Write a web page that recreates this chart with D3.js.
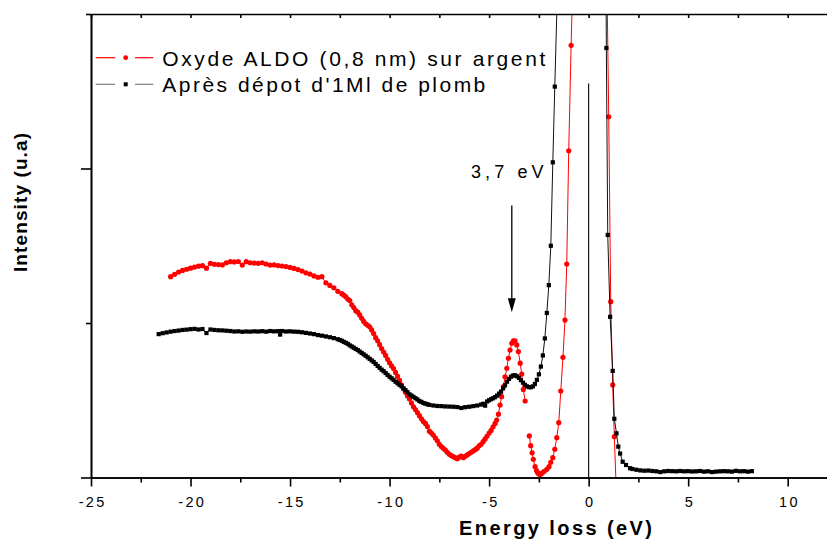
<!DOCTYPE html>
<html><head><meta charset="utf-8">
<script src="https://cdn.jsdelivr.net/npm/d3@7"></script>
<style>body{margin:0;background:#fff}svg{display:block}text{font-family:"Liberation Sans",Arial,sans-serif;fill:#000}</style>
</head><body><svg id="c" width="827" height="541"></svg>
<script>
// ---- data (energy loss in eV, intensity in arbitrary units) ----
const redEnergy = [-21.0,-20.8,-20.6,-20.4,-20.2,-20.0,-19.8,-19.6,-19.4,-19.2,-19.0,-18.8,-18.6,-18.4,-18.2,-18.0,-17.8,-17.6,-17.4,-17.2,-17.0,-16.8,-16.6,-16.4,-16.2,-16.0,-15.8,-15.6,-15.4,-15.2,-15.0,-14.8,-14.6,-14.4,-14.2,-14.0,-13.8,-13.6,-13.4,-13.2,-13.0,-12.8,-12.6,
 -12.4,-12.3,-12.2,-12.1,-12.0,-11.9,-11.8,-11.7,-11.6,-11.5,-11.4,-11.3,-11.2,-11.1,-11.0,-10.9,-10.8,-10.7,-10.6,-10.5,-10.4,-10.3,-10.2,-10.1,-10.0,-9.9,-9.8,-9.7,-9.6,-9.5,-9.4,-9.3,-9.2,-9.1,-9.0,-8.9,-8.8,-8.7,-8.6,-8.5,-8.4,-8.3,-8.2,-8.1,-8.0,-7.9,-7.8,-7.7,-7.6,-7.5,-7.4,-7.3,-7.2,-7.1,-7.0,-6.9,-6.8,-6.7,-6.6,-6.5,-6.4,-6.3,-6.2,-6.1,-6.0,-5.9,-5.8,-5.7,-5.6,-5.5,-5.4,-5.3,-5.2,-5.1,-5.0,-4.9,-4.8,-4.7,
 -4.62,-4.53,-4.45,-4.37,-4.28,-4.20,-4.11,-4.03,-3.95,-3.86,-3.78,-3.70,-3.61,-3.53,-3.44,-3.36,-3.28,-3.19,-3.08,
 -2.98,-2.91,-2.84,-2.78,-2.69,-2.62,-2.56,-2.50,-2.44,-2.38,-2.33,-2.23,-2.10,-1.99,-1.90,-1.80,-1.70,-1.60,-1.50,-1.40,-1.29,-1.19,-1.10,-1.00,-0.88,-0.78,-0.5,0,0.5,0.9,1.01,1.11,1.21,1.29,1.38];
const redIntensity = [1.300,1.315,1.330,1.340,1.348,1.355,1.362,1.368,1.372,1.355,1.386,1.380,1.378,1.376,1.390,1.397,1.395,1.398,1.375,1.397,1.390,1.388,1.386,1.390,1.382,1.375,1.376,1.372,1.369,1.365,1.360,1.353,1.346,1.336,1.325,1.317,1.305,1.296,1.300,1.260,1.243,1.228,1.205,
 1.190,1.180,1.170,1.155,1.145,1.118,1.100,1.080,1.070,1.052,1.030,1.010,0.995,0.985,0.975,0.955,0.932,0.905,0.885,0.860,0.835,0.812,0.790,0.765,0.742,0.722,0.705,0.680,0.655,0.628,0.600,0.575,0.552,0.528,0.508,0.482,0.458,0.440,0.420,0.400,0.380,0.362,0.350,0.330,0.300,0.288,0.275,0.255,0.238,0.215,0.200,0.189,0.178,0.163,0.150,0.142,0.135,0.128,0.122,0.132,0.138,0.128,0.137,0.146,0.155,0.163,0.172,0.180,0.190,0.205,0.215,0.232,0.250,0.268,0.288,0.305,0.328,0.350,
 0.372,0.410,0.469,0.523,0.588,0.652,0.707,0.772,0.825,0.869,0.885,0.885,0.858,0.815,0.740,0.670,0.570,0.495,null,
 0.269,0.206,0.160,0.118,0.070,0.045,0.030,0.022,0.020,0.024,0.030,0.040,0.053,0.070,0.098,0.128,0.183,0.258,0.355,0.560,0.778,1.019,1.382,2.115,2.797,3.3,10,50,10,3.4,2.335,1.138,0.599,0.264,-0.05];

const blackEnergy = [-21.6,-21.4,-21.2,-21.0,-20.8,-20.6,-20.4,-20.2,-20.0,-19.8,-19.6,-19.4,-19.2,-19.0,-18.8,-18.6,-18.4,-18.2,-18.0,-17.8,-17.6,-17.4,-17.2,-17.0,-16.8,-16.6,-16.4,-16.2,-16.0,-15.8,-15.6,-15.5,-15.4,-15.2,-15.0,-14.8,-14.6,-14.4,-14.2,-14.0,-13.8,-13.6,-13.4,-13.2,-13.0,-12.8,
 -12.6,-12.5,-12.4,-12.3,-12.2,-12.1,-12.0,-11.9,-11.8,-11.7,-11.6,-11.5,-11.4,-11.3,-11.2,-11.1,-11.0,-10.9,-10.8,-10.7,-10.6,-10.5,-10.4,-10.3,-10.2,-10.1,-10.0,-9.9,-9.8,-9.7,-9.6,-9.5,-9.4,-9.3,-9.2,-9.1,-9.0,-8.9,-8.8,-8.7,-8.6,-8.5,-8.4,-8.3,-8.2,-8.1,-8.0,
 -7.8,-7.6,-7.4,-7.2,-7.0,-6.8,-6.6,-6.4,-6.2,-6.0,-5.8,-5.6,-5.4,-5.3,-5.2,-5.1,-5.0,-4.9,-4.8,-4.7,-4.6,-4.5,-4.4,-4.3,-4.2,-4.1,-4.0,-3.9,-3.8,-3.7,-3.6,-3.5,-3.4,-3.3,-3.2,-3.1,-3.0,-2.9,-2.8,-2.7,-2.6,-2.5,-2.4,-2.3,-2.2,-2.1,-2.0,-1.9,-1.8,-1.7,-1.58,-1.4,-1.0,-0.5,0,0.4,0.7,
 0.89,0.96,1.08,1.21,1.29,1.40,1.49,1.58,1.71,1.88,2.08,2.2,2.4,2.6,2.8,3.0,3.2,3.4,3.6,3.8,4.0,4.2,4.4,4.6,4.8,5.0,5.2,5.4,5.6,5.8,6.0,6.2,6.4,6.6,6.8,7.0,7.2,7.4,7.6,7.8,8.0,8.2];
const blackIntensity = [0.928,0.934,0.939,0.944,0.948,0.951,0.955,0.957,0.960,0.962,0.958,0.961,0.935,0.958,0.955,0.953,0.952,0.950,0.948,0.945,0.946,0.943,0.945,0.944,0.946,0.945,0.947,0.944,0.948,0.946,0.947,0.925,0.948,0.945,0.946,0.944,0.943,0.940,0.936,0.932,0.928,0.922,0.918,0.913,0.908,0.902,
 0.895,0.890,0.885,0.878,0.872,0.865,0.855,0.848,0.840,0.832,0.825,0.815,0.806,0.797,0.788,0.778,0.768,0.758,0.748,0.735,0.722,0.710,0.698,0.688,0.676,0.664,0.652,0.642,0.632,0.620,0.610,0.600,0.590,0.577,0.565,0.552,0.538,0.530,0.522,0.513,0.505,0.495,0.489,0.482,0.478,0.474,0.470,
 0.466,0.463,0.462,0.460,0.459,0.458,0.456,0.450,0.455,0.458,0.462,0.466,0.472,0.477,0.465,0.492,0.500,0.507,0.513,0.520,0.530,0.543,0.556,0.577,0.597,0.620,0.638,0.652,0.660,0.662,0.655,0.645,0.630,0.614,0.600,0.590,0.585,0.584,0.590,0.605,0.632,0.668,0.718,0.790,0.900,1.065,1.245,1.500,2.040,2.530,3.1,5,12,30,60,30,8,
 2.78,1.57,1.04,0.69,0.38,0.286,0.200,0.155,0.102,0.081,0.060,0.055,0.050,0.046,0.044,0.045,0.042,0.040,0.035,0.040,0.042,0.041,0.040,0.042,0.040,0.041,0.039,0.040,0.042,0.038,0.040,0.035,0.038,0.040,0.041,0.040,0.038,0.043,0.040,0.041,0.038,0.041];

const xTickValues = [-25,-20,-15,-10,-5,0,5,10];
const xMinorTicks = [-22.5,-17.5,-12.5,-7.5,-2.5,2.5,7.5];
const topTicks = [-25,-22.5,-20,-17.5,-15,-12.5,-10,-7.5,-5,-2.5,0,2.5,5,7.5,10];
const yMajorTicks = [0,2];
const yMinorTicks = [1,3];
const seriesNames = ["Oxyde ALDO (0,8 nm) sur argent","Après dépot d'1Ml de plomb"];
const xTitle = "Energy loss (eV)";
const yTitle = "Intensity (u.a)";
const peakLabel = "3,7 eV";
const arrowEnergy = -3.86, arrowFrom = 1.76, arrowTo = 1.07;
const zeroLineEnergy = 0, zeroLineTop = 2.55;

// ---- drawing ----
const svg = d3.select('#c');
const x = d3.scaleLinear().domain([-25,12]).range([91,827.5]);
const y = d3.scaleLinear().domain([0,3]).range([477.5,14]);

svg.append('defs').append('clipPath').attr('id','clip')
  .append('rect').attr('x',91).attr('y',14).attr('width',740).attr('height',463.5);

const red = redEnergy.map((e,i)=>({x:e,y:redIntensity[i]}));
const black = blackEnergy.map((e,i)=>({x:e,y:blackIntensity[i]}));
const line = d3.line().defined(d=>d.y!==null).x(d=>x(d.x)).y(d=>y(d.y));

const plot = svg.append('g').attr('clip-path','url(#clip)');
plot.append('path').datum(red).attr('d',line).attr('fill','none').attr('stroke','#ff0000').attr('stroke-width',1);
plot.selectAll('circle.r').data(red.filter(d=>d.y!==null)).join('circle').attr('class','r')
  .attr('cx',d=>x(d.x)).attr('cy',d=>y(d.y)).attr('r',2.6).attr('fill','#ff0000');
plot.append('path').datum(black).attr('d',line).attr('fill','none').attr('stroke','#111').attr('stroke-width',1);
plot.selectAll('rect.b').data(black).join('rect').attr('class','b')
  .attr('x',d=>x(d.x)-2.1).attr('y',d=>y(d.y)-2.1).attr('width',4.2).attr('height',4.2).attr('fill','#000');

// zero-energy marker line
svg.append('line').attr('x1',x(zeroLineEnergy)).attr('x2',x(zeroLineEnergy))
  .attr('y1',y(0)).attr('y2',y(zeroLineTop)).attr('stroke','#000').attr('stroke-width',1.1);

// axes
function styleAxis(g){ g.selectAll('path,line').attr('stroke','#000').attr('stroke-width',1.6); }
svg.append('g').attr('transform','translate(0,477.5)')
  .call(d3.axisBottom(x).tickValues(xMinorTicks).tickSize(5).tickSizeOuter(0).tickFormat(''))
  .call(styleAxis);
const xa = svg.append('g').attr('transform','translate(0,477.5)')
  .call(d3.axisBottom(x).tickValues(xTickValues).tickSize(9).tickSizeOuter(0).tickFormat(d=>String(d)))
  .call(styleAxis);
xa.selectAll('text').attr('y',29).attr('dy',0).attr('dx',1.2)
  .style('font-size','14.5px').style('letter-spacing','2.4px').attr('font-family','"Liberation Sans",Arial,sans-serif');
svg.append('g').attr('transform','translate(0,14)')
  .call(d3.axisBottom(x).tickValues(topTicks).tickSize(4).tickSizeOuter(0).tickFormat(''))
  .call(styleAxis);
svg.append('g').attr('transform','translate(91,0)')
  .call(d3.axisLeft(y).tickValues(yMajorTicks).tickSize(10).tickSizeOuter(0).tickFormat(''))
  .call(styleAxis);
svg.append('g').attr('transform','translate(91,0)')
  .call(d3.axisLeft(y).tickValues(yMinorTicks).tickSize(5).tickSizeOuter(0).tickFormat(''))
  .call(styleAxis);

// titles
svg.append('text').attr('x',459).attr('y',534.5).attr('font-weight','bold').style('font-size','20px')
  .attr('textLength',193).attr('lengthAdjust','spacing').text(xTitle);
svg.append('text').attr('transform','translate(27,272) rotate(-90)').attr('font-weight','bold').style('font-size','19px')
  .attr('textLength',139).attr('lengthAdjust','spacing').text(yTitle);

// legend
const legY = [57.7, 84.3], txtY = [65.7, 91.7], txtLen = [383, 323];
[0,1].forEach(i=>{
  const col = i===0 ? '#ff0000' : '#808080';
  svg.append('line').attr('x1',95.7).attr('x2',115).attr('y1',legY[i]).attr('y2',legY[i]).attr('stroke',col).attr('stroke-width',1.2);
  svg.append('line').attr('x1',135).attr('x2',153.3).attr('y1',legY[i]).attr('y2',legY[i]).attr('stroke',col).attr('stroke-width',1.2);
  if(i===0) svg.append('circle').attr('cx',125.7).attr('cy',legY[i]).attr('r',2.4).attr('fill','#ff0000');
  else svg.append('rect').attr('x',123.7).attr('y',legY[i]-2).attr('width',4).attr('height',4).attr('fill','#000');
  svg.append('text').attr('x',162.3).attr('y',txtY[i]).style('font-size','21px')
    .attr('textLength',txtLen[i]).attr('lengthAdjust','spacing').text(seriesNames[i]);
});

// annotation
svg.append('text').attr('x',471).attr('y',177.7).style('font-size','18px')
  .attr('textLength',72.5).attr('lengthAdjust','spacing').text(peakLabel);
const ax = x(arrowEnergy);
svg.append('line').attr('x1',ax).attr('x2',ax).attr('y1',y(arrowFrom)).attr('y2',y(arrowTo)-12)
  .attr('stroke','#000').attr('stroke-width',1.3);
svg.append('path').attr('d',`M${ax-4},${y(arrowTo)-14}L${ax+4},${y(arrowTo)-14}L${ax},${y(arrowTo)}Z`).attr('fill','#000');
</script></body></html>
